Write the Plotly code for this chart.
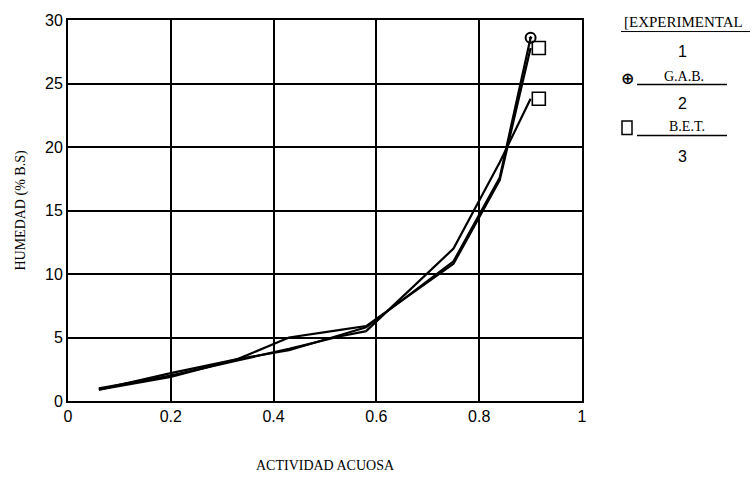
import plotly.graph_objects as go

# Water activity points where the isotherm is evaluated
aw = [0.06, 0.20, 0.33, 0.43, 0.53, 0.58, 0.75, 0.84, 0.90]

# Moisture content (% dry basis)
experimental = [0.9, 1.9, 3.3, 5.0, 5.6, 5.9, 10.8, 17.4, 27.8]
gab = [0.9, 2.2, 3.3, 4.0, 5.2, 5.8, 11.0, 17.6, 28.6]
bet = [1.0, 2.0, 3.2, 4.1, 5.1, 5.5, 12.0, 18.8, 23.8]

x_ticks = [0, 0.2, 0.4, 0.6, 0.8, 1]
x_labels = ["0", "0.2", "0.4", "0.6", "0.8", "1"]
y_ticks = [0, 5, 10, 15, 20, 25, 30]

W, H = 754, 483
L, R, T, B = 68, 172, 20, 67
serif = "Liberation Serif, Times New Roman, serif"
sans = "Liberation Sans, Arial, sans-serif"


def px(x):
    return (x - L) / (W - L - R)


def py(y):
    return (H - B - y) / (H - T - B)


fig = go.Figure()
for name, ys in [("EXPERIMENTAL", experimental), ("G.A.B.", gab), ("B.E.T.", bet)]:
    fig.add_trace(go.Scatter(x=aw, y=ys, mode="lines", name=name, showlegend=False,
                             line=dict(color="black", width=2.2)))

# Curve identifiers at the upper end of each isotherm
label_gap = 0.016
fig.add_trace(go.Scatter(x=[aw[-1]], y=[gab[-1]], mode="markers", showlegend=False,
                         cliponaxis=False,
                         marker=dict(symbol="circle-open-dot", size=10, color="black",
                                     line=dict(width=2))))
fig.add_trace(go.Scatter(x=[aw[-1] + label_gap] * 2, y=[experimental[-1], bet[-1]],
                         mode="markers", showlegend=False, cliponaxis=False,
                         marker=dict(symbol="square-open", size=13, color="black",
                                     line=dict(width=1.6))))

fig.update_xaxes(range=[0, 1], tickvals=x_ticks, ticktext=x_labels,
                 showgrid=True, gridcolor="black", gridwidth=1.5,
                 showline=True, linecolor="black", linewidth=2, mirror=True,
                 zeroline=False, ticks="", tickfont=dict(family=sans, size=16, color="black"),
                 title=dict(text="ACTIVIDAD ACUOSA", font=dict(family=serif, size=14, color="black"),
                            standoff=36))
fig.update_yaxes(range=[0, 30], tickvals=y_ticks,
                 showgrid=True, gridcolor="black", gridwidth=1.5,
                 showline=True, linecolor="black", linewidth=2, mirror=True,
                 zeroline=False, ticks="", tickfont=dict(family=sans, size=16, color="black"),
                 title=dict(text="HUMEDAD (% B.S)", font=dict(family=serif, size=14, color="black"),
                            standoff=16))

# Key on the right-hand side
key_text = [
    ("[EXPERIMENTAL", 683, 22, serif, 15),
    ("1", 682, 53, sans, 16),
    ("G.A.B.", 684, 79, serif, 14),
    ("2", 682, 107, sans, 16),
    ("B.E.T.", 687, 131, serif, 14),
    ("3", 682, 162, sans, 16),
]
for text, x, y, fam, size in key_text:
    fig.add_annotation(x=px(x), y=py(y), xref="paper", yref="paper", text=text,
                       showarrow=False, xanchor="center", yanchor="middle",
                       font=dict(family=fam, size=size, color="black"))

fig.add_annotation(x=px(627), y=py(81), xref="paper", yref="paper", text="<b>⊕</b>",
                   showarrow=False, xanchor="center", yanchor="middle",
                   font=dict(family="DejaVu Sans", size=16, color="black"))

shapes = [
    dict(type="line", x0=px(621), x1=px(750), y0=py(32), y1=py(32), line=dict(width=1)),
    dict(type="line", x0=px(637), x1=px(727), y0=py(87), y1=py(87), line=dict(width=1.5)),
    dict(type="line", x0=px(637), x1=px(727), y0=py(140), y1=py(140), line=dict(width=1.5)),
    dict(type="rect", x0=px(622), x1=px(632), y0=py(139), y1=py(125), line=dict(width=1.5)),
]
for s in shapes:
    s.update(xref="paper", yref="paper")
    s["line"]["color"] = "black"
    fig.add_shape(**s)

fig.update_layout(width=W, height=H, margin=dict(l=L, r=R, t=T, b=B),
                  paper_bgcolor="white", plot_bgcolor="white")

fig.write_html("out.html")
